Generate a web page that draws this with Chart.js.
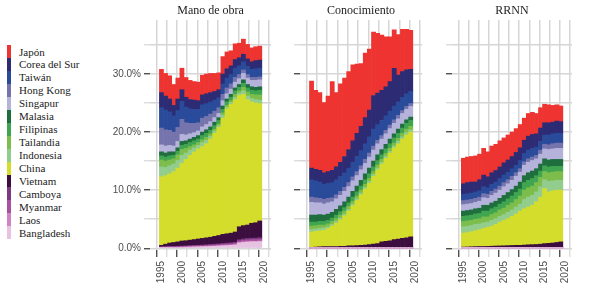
<!DOCTYPE html>
<html><head><meta charset="utf-8">
<script src="https://cdn.jsdelivr.net/npm/chart.js@4"></script>
<style>
html,body{margin:0;padding:0;background:#fff;}
body{width:594px;height:297px;position:relative;overflow:hidden;}
canvas{position:absolute;top:0;}
.sw{position:absolute;left:7px;width:4px;height:13px;}
.lb{position:absolute;left:19px;font:11px "Liberation Serif",serif;color:#222;white-space:nowrap;line-height:13px;height:13px;}
</style></head><body>
<div id="legend"></div>
<canvas id="c1" width="190" height="297" style="left:90px"></canvas>
<canvas id="c2" width="141" height="297" style="left:290px"></canvas>
<canvas id="c3" width="139" height="297" style="left:442px"></canvas>
<script>
const years = [1995,1996,1997,1998,1999,2000,2001,2002,2003,2004,2005,2006,2007,2008,2009,2010,2011,2012,2013,2014,2015,2016,2017,2018,2019];
const panelTitles = ['Mano de obra','Conocimiento','RRNN'];
const legendNames = ['Japón','Corea del Sur','Taiwán','Hong Kong','Singapur','Malasia','Filipinas','Tailandia','Indonesia','China','Vietnam','Camboya','Myanmar','Laos','Bangladesh'];
const legendColors = ['#EE3431','#2C2B73','#2A4A9A','#7674AC','#B5B3DB','#1E6E3E','#3FA550','#7CBD4B','#92CD8E','#D4DD2B','#3C0D3F','#7B3A80','#A9519F','#D183C3','#E6C3E1'];
const yTickValues = [0,5,10,15,20,25,30,35];
const xTickValues = [1995,1997.5,2000,2002.5,2005,2007.5,2010,2012.5,2015,2017.5,2020];

// Mano de obra (%)
const manoJapon = [4.0,3.9,4.0,3.6,3.6,3.7,3.4,3.3,3.2,3.2,3.4,3.4,3.3,3.1,2.9,3.0,2.9,2.6,2.7,2.5,2.6,2.5,2.4,2.4,2.4];
const manoCorea = [2.6,2.4,2.2,1.8,2.0,2.0,1.7,1.6,1.6,1.5,1.7,1.7,1.6,1.5,1.4,1.7,1.6,1.5,1.5,1.4,1.3,1.3,1.3,1.4,1.4];
const manoTaiwan = [3.5,3.4,3.2,2.8,2.9,3.1,2.7,2.5,2.4,2.3,2.3,2.2,2.1,1.9,1.7,1.8,1.7,1.6,1.6,1.5,1.4,1.4,1.4,1.5,1.5];
const manoHongKong = [2.9,2.8,2.6,2.4,2.4,2.6,2.1,1.8,1.6,1.4,1.5,1.4,1.3,1.1,1.0,1.1,1.0,0.9,0.8,0.7,0.6,0.6,0.5,0.5,0.5];
const manoSingapur = [1.2,1.2,1.1,1.0,1.1,1.2,1.0,0.9,0.8,0.8,0.9,0.9,0.9,0.8,0.7,0.9,0.9,0.9,1.0,1.0,1.1,1.1,1.1,1.2,1.2];
const manoMalasia = [0.7,0.7,0.7,0.6,0.6,0.7,0.6,0.6,0.6,0.6,0.6,0.6,0.6,0.6,0.5,0.6,0.5,0.5,0.5,0.5,0.6,0.6,0.6,0.6,0.6];
const manoFilipinas = [0.7,0.7,0.7,0.6,0.6,0.7,0.7,0.7,0.7,0.6,0.7,0.7,0.6,0.6,0.6,0.6,0.6,0.6,0.6,0.6,0.7,0.7,0.7,0.7,0.8];
const manoTailandia = [1.2,1.1,1.0,0.9,1.0,1.0,0.8,0.6,0.5,0.5,0.5,0.5,0.4,0.3,0.3,0.4,0.3,0.3,0.5,0.4,0.6,0.7,0.7,0.8,0.9];
const manoIndonesia = [1.7,1.4,1.4,1.3,1.3,1.4,1.1,0.9,0.7,0.6,0.7,0.6,0.5,0.4,0.3,0.5,0.3,0.3,0.4,0.4,0.6,0.6,0.6,0.6,0.6];
const manoChina = [11.8,11.8,11.9,12.2,12.7,13.35,14.0,14.6,15.1,15.5,15.8,16.2,16.9,17.75,18.6,20.0,21.5,22.2,22.8,22.6,22.6,21.6,20.9,20.6,20.2];
const manoVietnam = [0.28,0.45,0.61,0.69,0.76,0.87,0.89,0.95,1.01,1.08,1.15,1.19,1.25,1.35,1.44,1.58,1.61,1.66,1.77,2.23,2.3,2.33,2.57,2.65,2.88];
const manoCamboya = [0.02,0.03,0.04,0.05,0.06,0.07,0.08,0.09,0.1,0.1,0.11,0.12,0.13,0.14,0.15,0.16,0.17,0.18,0.2,0.22,0.23,0.24,0.25,0.26,0.27];
const manoMyanmar = [0.08,0.09,0.1,0.1,0.11,0.12,0.12,0.13,0.13,0.14,0.14,0.15,0.15,0.16,0.16,0.17,0.18,0.18,0.19,0.25,0.27,0.28,0.28,0.29,0.3];
const manoLaos = [0.02,0.02,0.03,0.03,0.03,0.04,0.04,0.04,0.05,0.05,0.05,0.06,0.06,0.06,0.07,0.07,0.08,0.08,0.09,0.1,0.1,0.1,0.1,0.1,0.1];
const manoBangladesh = [0.10,0.11,0.12,0.13,0.14,0.15,0.17,0.19,0.21,0.23,0.25,0.28,0.31,0.34,0.38,0.42,0.46,0.5,0.55,0.9,1.0,1.05,1.1,1.1,1.15];

// Conocimiento
const conoJapon = [15.0,13.6,13.4,12.1,13.0,15.3,12.8,13.5,13.5,13.4,13.1,11.9,10.8,11.1,10.5,10.9,10.3,9.5,8.6,7.7,6.6,7.0,7.3,7.0,6.7];
const conoCorea = [2.0,2.0,2.0,2.0,2.0,2.1,2.2,2.4,2.8,3.2,3.7,4.0,4.2,4.5,4.6,5.8,5.4,5.2,5.0,5.1,6.5,4.6,4.4,4.1,3.8];
const conoTaiwan = [3.0,2.9,2.8,2.6,2.6,2.6,2.6,2.6,2.5,2.5,2.5,2.6,2.6,2.7,2.8,2.9,2.7,2.6,2.5,2.4,2.4,2.3,2.3,2.2,2.1];
const conoHongKong = [0.9,0.9,0.8,0.8,0.8,0.7,0.7,0.7,0.7,0.7,0.7,0.7,0.7,0.7,0.7,0.7,0.6,0.6,0.6,0.6,0.6,0.6,0.5,0.5,0.5];
const conoSingapur = [2.2,2.1,2.0,1.9,1.9,1.8,1.8,1.8,1.8,1.8,1.8,1.8,1.8,1.8,1.9,1.9,1.9,1.8,1.8,1.8,1.8,1.8,1.8,1.8,1.8];
const conoMalasia = [1.2,1.2,1.2,1.1,1.1,1.0,1.0,1.0,1.0,1.0,1.0,1.0,1.0,1.0,1.0,1.0,1.0,0.9,0.8,0.8,0.7,0.7,0.7,0.6,0.6];
const conoFilipinas = [0.7,0.6,0.6,0.6,0.6,0.6,0.6,0.6,0.6,0.6,0.7,0.7,0.7,0.8,0.8,0.8,0.8,0.8,0.8,0.8,0.9,0.9,0.9,1.0,1.0];
const conoTailandia = [0.6,0.6,0.6,0.5,0.5,0.5,0.5,0.5,0.5,0.5,0.5,0.5,0.5,0.5,0.5,0.5,0.5,0.5,0.5,0.5,0.5,0.5,0.6,0.6,0.6];
const conoIndonesia = [0.4,0.4,0.4,0.4,0.3,0.3,0.3,0.3,0.3,0.3,0.3,0.3,0.3,0.3,0.3,0.3,0.3,0.3,0.3,0.3,0.3,0.4,0.4,0.4,0.4];
const conoChina = [2.65,2.7,2.75,2.8,3.1,3.5,4.0,4.55,5.25,6.0,6.9,7.75,8.7,9.65,10.55,11.7,12.7,13.4,14.3,15.1,15.8,16.4,17.1,17.7,18.05];
const conoVietnam = [0.08,0.13,0.18,0.23,0.23,0.23,0.23,0.28,0.28,0.33,0.33,0.38,0.43,0.48,0.58,0.63,0.73,1.03,1.13,1.23,1.43,1.53,1.63,1.73,1.88];
const conoCamboya = [0.02,0.02,0.02,0.02,0.02,0.02,0.02,0.02,0.02,0.02,0.02,0.02,0.02,0.02,0.02,0.02,0.02,0.02,0.02,0.02,0.02,0.02,0.02,0.02,0.02];
const conoMyanmar = [0.02,0.02,0.02,0.02,0.02,0.02,0.02,0.02,0.02,0.02,0.02,0.02,0.02,0.02,0.02,0.02,0.02,0.02,0.02,0.02,0.02,0.02,0.02,0.02,0.02];
const conoLaos = [0.01,0.01,0.01,0.01,0.01,0.01,0.01,0.01,0.01,0.01,0.01,0.01,0.01,0.01,0.01,0.01,0.01,0.01,0.01,0.01,0.01,0.01,0.01,0.01,0.01];
const conoBangladesh = [0.02,0.02,0.02,0.02,0.02,0.02,0.02,0.02,0.02,0.02,0.02,0.02,0.02,0.02,0.02,0.02,0.02,0.02,0.02,0.02,0.02,0.02,0.02,0.02,0.02];

// RRNN
const rrnnJapon = [4.4,4.4,4.4,4.5,4.4,4.6,4.3,4.6,4.5,4.5,4.3,4.3,4.2,4.1,4.0,3.8,3.9,3.8,3.5,3.5,3.2,3.1,2.9,2.8,2.7];
const rrnnCorea = [1.8,1.9,1.9,1.7,1.9,2.0,1.9,2.0,2.0,2.0,2.1,2.1,2.1,2.2,2.2,2.3,2.4,2.4,2.3,2.3,2.1,2.1,2.0,2.1,2.0];
const rrnnTaiwan = [1.1,1.1,1.1,1.1,1.1,1.2,1.1,1.2,1.2,1.3,1.3,1.3,1.3,1.3,1.4,1.4,1.5,1.5,1.4,1.5,1.6,1.7,1.7,1.7,1.7];
const rrnnHongKong = [0.7,0.7,0.7,0.7,0.7,0.7,0.7,0.7,0.7,0.7,0.7,0.7,0.7,0.6,0.6,0.6,0.6,0.6,0.6,0.7,0.8,0.8,0.9,0.9,0.9];
const rrnnSingapur = [1.1,1.1,1.1,1.1,1.2,1.3,1.2,1.3,1.4,1.4,1.5,1.5,1.6,1.7,1.7,1.8,1.8,1.8,1.7,1.7,1.7,1.8,1.8,1.9,1.9];
const rrnnMalasia = [0.9,0.9,0.9,0.9,0.9,1.0,1.0,1.0,1.0,1.0,1.1,1.1,1.1,1.1,1.2,1.2,1.3,1.3,1.2,1.2,1.2,1.2,1.2,1.2,1.2];
const rrnnFilipinas = [0.9,0.9,0.9,0.9,0.9,1.0,1.0,1.0,1.0,1.0,1.1,1.1,1.2,1.2,1.2,1.3,1.3,1.3,1.2,1.1,1.0,1.0,1.0,0.9,0.9];
const rrnnTailandia = [0.9,0.9,0.9,0.9,0.9,1.0,0.9,1.0,1.0,1.1,1.1,1.2,1.2,1.3,1.4,1.6,1.6,1.6,1.6,1.6,1.4,1.5,1.5,1.5,1.5];
const rrnnIndonesia = [1.1,1.1,1.05,1.1,1.0,1.0,0.9,1.0,1.0,1.0,1.0,1.1,1.1,1.2,1.2,1.6,1.7,1.7,1.7,1.8,1.5,1.8,1.7,1.7,1.7];
const rrnnChina = [2.4,2.48,2.6,2.72,2.9,3.1,3.28,3.45,3.72,4.1,4.38,4.65,5.02,5.4,5.9,6.25,6.5,6.78,7.35,8.1,9.5,8.85,9.0,9.0,8.9];
const rrnnVietnam = [0.06,0.08,0.11,0.14,0.16,0.16,0.18,0.21,0.24,0.26,0.28,0.31,0.34,0.36,0.36,0.41,0.46,0.48,0.51,0.56,0.66,0.71,0.76,0.86,0.96];
const rrnnCamboya = [0.02,0.02,0.02,0.02,0.02,0.02,0.02,0.02,0.02,0.02,0.02,0.02,0.02,0.02,0.02,0.02,0.02,0.02,0.02,0.02,0.02,0.02,0.02,0.02,0.02];
const rrnnMyanmar = [0.08,0.08,0.08,0.08,0.08,0.08,0.08,0.08,0.08,0.08,0.08,0.08,0.08,0.08,0.08,0.08,0.08,0.08,0.08,0.08,0.08,0.08,0.08,0.08,0.08];
const rrnnLaos = [0.02,0.02,0.02,0.02,0.02,0.02,0.02,0.02,0.02,0.02,0.02,0.02,0.02,0.02,0.02,0.02,0.02,0.02,0.02,0.02,0.02,0.02,0.02,0.02,0.02];
const rrnnBangladesh = [0.02,0.02,0.02,0.02,0.02,0.02,0.02,0.02,0.02,0.02,0.02,0.02,0.02,0.02,0.02,0.02,0.02,0.02,0.02,0.02,0.02,0.02,0.02,0.02,0.02];

// Series in legend order (top of stack first)
const manoSeries = [manoJapon,manoCorea,manoTaiwan,manoHongKong,manoSingapur,manoMalasia,manoFilipinas,manoTailandia,manoIndonesia,manoChina,manoVietnam,manoCamboya,manoMyanmar,manoLaos,manoBangladesh];
const conoSeries = [conoJapon,conoCorea,conoTaiwan,conoHongKong,conoSingapur,conoMalasia,conoFilipinas,conoTailandia,conoIndonesia,conoChina,conoVietnam,conoCamboya,conoMyanmar,conoLaos,conoBangladesh];
const rrnnSeries = [rrnnJapon,rrnnCorea,rrnnTaiwan,rrnnHongKong,rrnnSingapur,rrnnMalasia,rrnnFilipinas,rrnnTailandia,rrnnIndonesia,rrnnChina,rrnnVietnam,rrnnCamboya,rrnnMyanmar,rrnnLaos,rrnnBangladesh];

// Legend (HTML)
const leg = document.getElementById('legend');
legendNames.forEach((n,i)=>{
  const top = 45 + i*12.95;
  const s = document.createElement('div'); s.className='sw';
  s.style.top = top+'px'; s.style.background = legendColors[i]; leg.appendChild(s);
  const t = document.createElement('div'); t.className='lb';
  t.style.top = (top+0.5)+'px'; t.textContent = n; leg.appendChild(t);
});

// Panel title centred over the plotting area (like a facet strip)
const panelTitlePlugin = {
  id:'panelTitle',
  afterDraw(chart, args, opts){
    const a = chart.chartArea, ctx = chart.ctx;
    ctx.save();
    ctx.font = '12px "Liberation Serif"';
    ctx.fillStyle = '#222';
    ctx.textAlign = 'center';
    ctx.textBaseline = 'middle';
    ctx.fillText(opts.text, (a.left + a.right)/2, 10.5);
    ctx.restore();
  }
};

const GRID = '#d6d6d6';
const DARK = '#333333';
function makeChart(id, title, series, axisW, showLabels){
  const order = series.map((s,i)=>i).reverse(); // bottom of stack first
  new Chart(document.getElementById(id), {
    type:'bar',
    plugins:[panelTitlePlugin],
    data:{datasets: order.map(i=>({
      label: legendNames[i],
      data: years.map((y,k)=>({x:y, y:series[i][k]})),
      backgroundColor: legendColors[i],
      borderWidth:0, barPercentage:1, categoryPercentage:1
    }))},
    options:{
      responsive:false, animation:false, devicePixelRatio:1,
      layout:{padding:{left:0,right:2,top:20,bottom:0}},
      plugins:{
        legend:{display:false}, tooltip:{enabled:false}, title:{display:false},
        panelTitle:{text:title}
      },
      scales:{
        x:{type:'linear', min:1993.55, max:2020.42, stacked:true,
          afterBuildTicks:s=>{s.ticks = xTickValues.map(v=>({value:v}));},
          afterFit:s=>{s.height = 47;},
          border:{display:false},
          grid:{color:GRID, lineWidth:1.5, drawTicks:true, tickLength:7, tickWidth:1.2,
            tickColor:c=> (c.tick && c.tick.value%5===0) ? DARK : GRID},
          ticks:{autoSkip:false, minRotation:90, maxRotation:90, padding:4, color:'#4d4d4d',
            font:{family:'Liberation Sans', size:10},
            callback:v=> (v%5===0) ? String(v) : ''}
        },
        y:{type:'linear', min:-0.3, max:39.3, stacked:true,
          afterBuildTicks:s=>{s.ticks = yTickValues.map(v=>({value:v}));},
          afterFit:s=>{s.width = axisW;},
          border:{display:false},
          grid:{color:GRID, lineWidth:1.5, drawTicks:true, tickLength:6, tickWidth:1.2,
            tickColor:c=> (c.tick && c.tick.value%10===0) ? DARK : GRID},
          ticks:{display:showLabels, padding:3, color:'#4d4d4d',
            font:{family:'Liberation Sans', size:10},
            callback:v=> (v%10===0) ? v.toFixed(1)+'%' : ''}
        }
      }
    }
  });
}
makeChart('c1', panelTitles[0], manoSeries, 60, true);
makeChart('c2', panelTitles[1], conoSeries, 10, false);
makeChart('c3', panelTitles[2], rrnnSeries, 10, false);
</script>
</body></html>
